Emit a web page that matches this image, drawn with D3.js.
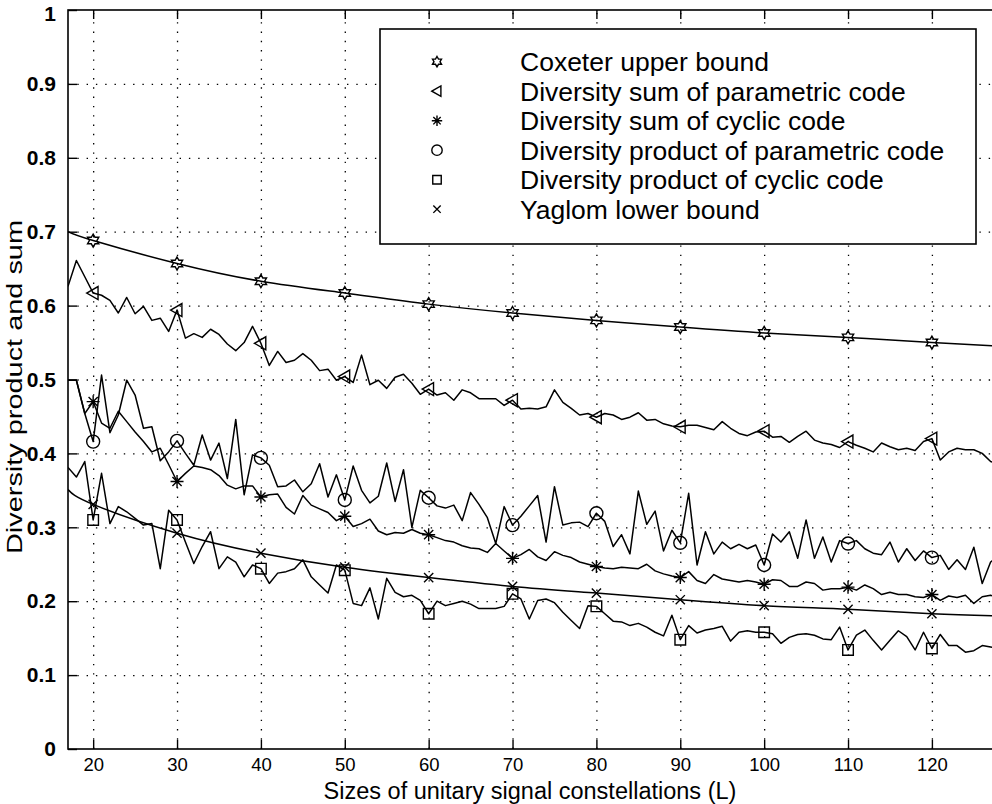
<!DOCTYPE html>
<html><head><meta charset="utf-8">
<script src="https://cdn.jsdelivr.net/npm/d3@7"></script>
<style>body{margin:0;background:#fff} text{font-family:Helvetica,Arial,"Liberation Sans",sans-serif;fill:#000}</style>
</head><body>
<svg id="chart" width="992" height="804"></svg>
<script>
// ---------- data ----------
const sizes = d3.range(17, 129); // L = 17 .. 128
const markerSizes = [20, 30, 40, 50, 60, 70, 80, 90, 100, 110, 120];
const xTicks = [20, 30, 40, 50, 60, 70, 80, 90, 100, 110, 120];
const yTicks = [0, 0.1, 0.2, 0.3, 0.4, 0.5, 0.6, 0.7, 0.8, 0.9, 1];
const yTickLabels = ["0", "0.1", "0.2", "0.3", "0.4", "0.5", "0.6", "0.7", "0.8", "0.9", "1"];

const coxeterL = [17, 20, 30, 40, 50, 60, 70, 80, 90, 100, 110, 120, 128];
const coxeter  = [0.700, 0.688, 0.657, 0.633, 0.617, 0.602, 0.590, 0.580, 0.571, 0.563, 0.557, 0.550, 0.545];
const yaglomL  = [17, 20, 30, 40, 50, 60, 70, 80, 90, 100, 110, 120, 128];
const yaglom   = [0.351, 0.331, 0.292, 0.265, 0.246, 0.232, 0.220, 0.211, 0.202, 0.194, 0.189, 0.183, 0.180];

const sumParametric = [
0.626,0.661,0.639,0.617,0.614,0.607,0.590,0.611,0.589,0.599,0.580,0.583,0.565,0.594,
0.556,0.562,0.557,0.568,0.561,0.548,0.539,0.550,0.572,0.549,0.519,0.538,0.523,0.526,
0.535,0.526,0.512,0.514,0.499,0.504,0.496,0.533,0.493,0.499,0.488,0.503,0.507,0.495,
0.480,0.487,0.479,0.482,0.472,0.486,0.482,0.474,0.474,0.474,0.465,0.472,0.460,0.461,
0.460,0.463,0.486,0.469,0.461,0.452,0.454,0.449,0.454,0.452,0.446,0.449,0.455,0.445,
0.446,0.440,0.437,0.436,0.438,0.438,0.435,0.432,0.443,0.434,0.427,0.424,0.429,0.430,
0.422,0.423,0.415,0.423,0.430,0.418,0.414,0.412,0.408,0.416,0.411,0.407,0.402,0.414,
0.409,0.405,0.407,0.404,0.416,0.420,0.391,0.402,0.407,0.405,0.405,0.400,0.389,0.385];

const sumCyclic = [
0.499,0.499,0.454,0.470,0.441,0.434,0.457,0.443,0.429,0.416,0.402,0.407,0.385,0.362,
0.373,0.383,0.381,0.378,0.370,0.357,0.352,0.356,0.356,0.341,0.344,0.345,0.327,0.318,
0.343,0.330,0.325,0.320,0.309,0.315,0.301,0.305,0.311,0.295,0.290,0.293,0.292,0.297,
0.292,0.290,0.286,0.282,0.280,0.275,0.272,0.271,0.266,0.278,0.268,0.258,0.263,0.270,
0.260,0.255,0.267,0.262,0.259,0.253,0.250,0.247,0.245,0.244,0.246,0.245,0.244,0.250,
0.241,0.237,0.234,0.232,0.240,0.228,0.224,0.236,0.230,0.228,0.226,0.228,0.226,0.223,
0.229,0.228,0.220,0.220,0.226,0.224,0.215,0.217,0.217,0.219,0.215,0.222,0.217,0.209,
0.212,0.209,0.209,0.206,0.205,0.209,0.201,0.207,0.205,0.208,0.197,0.206,0.208,0.205];

const prodParametric = [
0.499,0.499,0.454,0.416,0.506,0.428,0.452,0.499,0.479,0.434,0.436,0.390,0.402,0.417,
0.400,0.384,0.425,0.391,0.414,0.366,0.446,0.344,0.398,0.394,0.384,0.355,0.356,0.364,
0.348,0.359,0.386,0.341,0.371,0.337,0.383,0.350,0.333,0.342,0.387,0.335,0.378,0.300,
0.350,0.340,0.329,0.326,0.330,0.309,0.347,0.331,0.313,0.278,0.328,0.303,0.315,0.329,
0.343,0.280,0.355,0.303,0.306,0.307,0.301,0.319,0.308,0.274,0.290,0.264,0.349,0.304,
0.322,0.268,0.296,0.279,0.346,0.249,0.294,0.264,0.280,0.271,0.277,0.271,0.276,0.249,
0.291,0.280,0.294,0.258,0.310,0.258,0.287,0.253,0.282,0.278,0.282,0.271,0.265,0.263,
0.280,0.253,0.271,0.255,0.268,0.259,0.262,0.243,0.256,0.243,0.273,0.224,0.253,0.262];

const prodCyclic = [
0.381,0.368,0.389,0.310,0.373,0.305,0.328,0.321,0.312,0.303,0.305,0.244,0.323,0.310,
0.280,0.251,0.274,0.294,0.244,0.260,0.253,0.233,0.249,0.244,0.224,0.238,0.240,0.244,
0.256,0.233,0.222,0.211,0.249,0.242,0.197,0.194,0.218,0.176,0.231,0.212,0.206,0.208,
0.201,0.183,0.200,0.194,0.197,0.200,0.196,0.190,0.190,0.190,0.193,0.210,0.203,0.176,
0.201,0.203,0.198,0.185,0.174,0.163,0.194,0.193,0.183,0.173,0.172,0.167,0.170,0.165,
0.158,0.153,0.181,0.148,0.167,0.157,0.161,0.163,0.166,0.146,0.158,0.160,0.158,0.158,
0.156,0.143,0.151,0.155,0.156,0.154,0.149,0.148,0.165,0.134,0.154,0.161,0.147,0.134,
0.147,0.160,0.152,0.134,0.158,0.136,0.155,0.140,0.140,0.131,0.133,0.140,0.138,0.136];

const legendLabels = ["Coxeter upper bound", "Diversity sum of parametric code", "Diversity sum of cyclic code",
  "Diversity product of parametric code", "Diversity product of cyclic code", "Yaglom lower bound"];
const legendSymbols = ["hexagram", "triangleLeft", "asterisk", "circle", "square", "cross"];

// ---------- layout ----------
const svg = d3.select("#chart");
const M = {left: 68, top: 10, right: 999, bottom: 749};
const x = d3.scaleLinear().domain([17, 128]).range([M.left, M.right]);
const y = d3.scaleLinear().domain([0, 1]).range([M.bottom, M.top]);
const H = M.bottom - M.top;

svg.append("rect").attr("width", 992).attr("height", 804).attr("fill", "#fff");

svg.append("defs").append("clipPath").attr("id", "clip")
  .append("rect").attr("x", M.left).attr("y", M.top).attr("width", M.right - M.left).attr("height", H);

// grid
const gridX = svg.append("g").attr("transform", `translate(0,${M.bottom})`)
  .call(d3.axisBottom(x).tickValues(xTicks).tickSize(-H).tickFormat(""));
const gridY = svg.append("g").attr("transform", `translate(${M.left},0)`)
  .call(d3.axisLeft(y).tickValues(yTicks.slice(1, -1)).tickSize(-(M.right - M.left)).tickFormat(""));
[gridX, gridY].forEach(g => {
  g.select(".domain").remove();
  g.selectAll("line").attr("stroke", "#000").attr("stroke-width", 1.3).attr("stroke-dasharray", "1.4 7.9");
});

// symbol generators
function symbolPath(type, r) {
  const p = d3.path();
  if (type === "hexagram") {
    for (let k = 0; k < 12; k++) {
      const a = (-90 + k * 30) * Math.PI / 180;
      const rr = k % 2 === 0 ? r : r / Math.sqrt(3);
      const px = rr * Math.cos(a), py = rr * Math.sin(a);
      if (k === 0) p.moveTo(px, py); else p.lineTo(px, py);
    }
    p.closePath();
  } else if (type === "triangleLeft") {
    p.moveTo(-r, 0); p.lineTo(r * 0.75, -r); p.lineTo(r * 0.75, r); p.closePath();
  } else if (type === "asterisk") {
    for (let k = 0; k < 4; k++) {
      const a = k * Math.PI / 4;
      p.moveTo(-r * Math.cos(a), -r * Math.sin(a)); p.lineTo(r * Math.cos(a), r * Math.sin(a));
    }
  } else if (type === "circle") {
    p.moveTo(r, 0); p.arc(0, 0, r, 0, 2 * Math.PI);
  } else if (type === "square") {
    p.rect(-r, -r, 2 * r, 2 * r);
  } else if (type === "cross") {
    p.moveTo(-r, -r); p.lineTo(r, r); p.moveTo(-r, r); p.lineTo(r, -r);
  }
  return p.toString();
}
const markerR = {hexagram: 6.5, triangleLeft: 6.5, asterisk: 6.5, circle: 6.5, square: 5.3, cross: 4.6};

const plot = svg.append("g").attr("clip-path", "url(#clip)");
const lineGen = d3.line().x(d => x(d[0])).y(d => y(d[1]));
const smoothGen = d3.line().x(d => x(d[0])).y(d => y(d[1])).curve(d3.curveNatural);

const series = [
  {pts: d3.zip(coxeterL, coxeter), gen: smoothGen, sym: "hexagram"},
  {pts: d3.zip(sizes, sumParametric), gen: lineGen, sym: "triangleLeft"},
  {pts: d3.zip(sizes, sumCyclic), gen: lineGen, sym: "asterisk"},
  {pts: d3.zip(sizes, prodParametric), gen: lineGen, sym: "circle"},
  {pts: d3.zip(sizes, prodCyclic), gen: lineGen, sym: "square"},
  {pts: d3.zip(yaglomL, yaglom), gen: smoothGen, sym: "cross"}
];

series.forEach(s => {
  plot.append("path").attr("d", s.gen(s.pts)).attr("fill", "none")
    .attr("stroke", "#000").attr("stroke-width", 1.5).attr("stroke-linejoin", "round");
});
series.forEach(s => {
  let mpts;
  if (s.gen === smoothGen) {
    const tmp = plot.append("path").attr("d", s.gen(s.pts)).attr("fill", "none").attr("stroke", "none");
    const node = tmp.node(), len = node.getTotalLength();
    mpts = markerSizes.map(m => {
      const tx = x(m);
      let lo = 0, hi = len;
      for (let i = 0; i < 40; i++) { const mid = (lo + hi) / 2; if (node.getPointAtLength(mid).x < tx) lo = mid; else hi = mid; }
      const pt = node.getPointAtLength(lo);
      return [tx, pt.y];
    });
    tmp.remove();
  } else {
    mpts = markerSizes.map(m => { const d = s.pts.find(p => p[0] === m); return [x(d[0]), y(d[1])]; });
  }
  plot.selectAll(null).data(mpts).enter().append("path")
    .attr("transform", d => `translate(${d[0]},${d[1]})`)
    .attr("d", symbolPath(s.sym, markerR[s.sym]))
    .attr("fill", "none").attr("stroke", "#000").attr("stroke-width", 1.4);
});

// axes
const tickLen = 9;
const axBottom = svg.append("g").attr("transform", `translate(0,${M.bottom})`)
  .call(d3.axisBottom(x).tickValues(xTicks).tickSizeInner(-tickLen).tickSizeOuter(0).tickPadding(9).tickFormat(d3.format("d")));
const axTop = svg.append("g").attr("transform", `translate(0,${M.top})`)
  .call(d3.axisTop(x).tickValues(xTicks).tickSizeInner(-tickLen).tickSizeOuter(0).tickFormat(""));
const axLeft = svg.append("g").attr("transform", `translate(${M.left},0)`)
  .call(d3.axisLeft(y).tickValues(yTicks).tickSizeInner(-tickLen).tickSizeOuter(0).tickPadding(12)
    .tickFormat((d, i) => yTickLabels[i]));
[axBottom, axTop, axLeft].forEach(g => {
  g.select(".domain").remove();
  g.selectAll("line").attr("stroke", "#000").attr("stroke-width", 1.4);
});
axBottom.selectAll("text").attr("font-size", 18.5).attr("fill", "#000")
  .attr("font-family", "Helvetica, Arial, 'Liberation Sans', sans-serif");
axLeft.selectAll("text").attr("font-size", 21).attr("font-weight", "bold").attr("fill", "#000")
  .attr("font-family", "Helvetica, Arial, 'Liberation Sans', sans-serif");
axLeft.selectAll(".tick").filter(d => d === 1).select("text").attr("dy", "0.5em");

// frame
svg.append("rect").attr("x", M.left).attr("y", M.top).attr("width", M.right - M.left).attr("height", H)
  .attr("fill", "none").attr("stroke", "#000").attr("stroke-width", 1.6);

// axis titles
svg.append("text").attr("x", 530).attr("y", 799).attr("text-anchor", "middle")
  .attr("font-size", 23.5).text("Sizes of unitary signal constellations (L)");
svg.append("text").attr("transform", `translate(22,387) rotate(-90)`)
  .attr("text-anchor", "middle").attr("font-size", 22)
  .attr("textLength", 334).attr("lengthAdjust", "spacingAndGlyphs")
  .text("Diversity product and sum");

// legend
const leg = svg.append("g");
leg.append("rect").attr("x", 380).attr("y", 29).attr("width", 596).attr("height", 215)
  .attr("fill", "#fff").attr("stroke", "#000").attr("stroke-width", 1.6);
legendLabels.forEach((lab, i) => {
  const cy = 61.7 + i * 29.5;
  leg.append("path").attr("transform", `translate(437,${cy})`)
    .attr("d", symbolPath(legendSymbols[i], markerR[legendSymbols[i]] * 0.8))
    .attr("fill", "none").attr("stroke", "#000").attr("stroke-width", 1.4);
  leg.append("text").attr("x", 520).attr("y", cy).attr("dy", "0.36em")
    .attr("font-size", 26.5).text(lab);
});
</script>
</body></html>
